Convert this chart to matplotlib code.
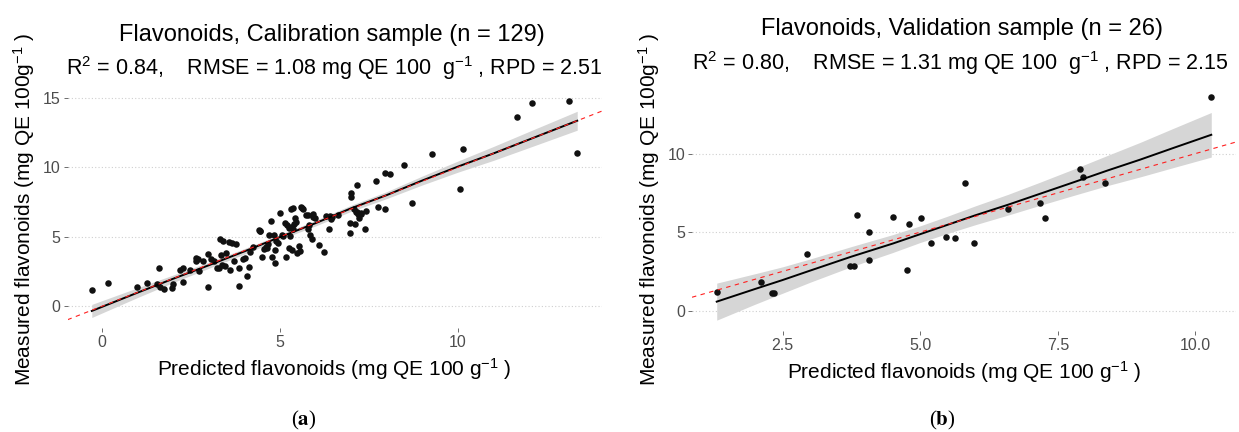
import numpy as np
import matplotlib
matplotlib.use("Agg")
import matplotlib.pyplot as plt

plt.rcParams['font.family'] = ['Liberation Sans', 'DejaVu Sans']
plt.rcParams['mathtext.fontset'] = 'custom'
plt.rcParams['mathtext.rm'] = 'Liberation Sans'
plt.rcParams['mathtext.it'] = 'Liberation Sans:italic'
plt.rcParams['mathtext.bf'] = 'Liberation Sans:bold'

# Calibration sample (predicted, measured)
cal_pred = [-0.28, 0.17, 1.00, 1.28, 1.55, 1.62, 1.63, 1.75, 1.98, 2.01, 2.21, 2.29, 2.28, 2.49,
            2.65, 2.65, 2.74, 2.85, 2.97, 2.99, 3.06, 3.14, 3.25, 3.30, 3.34, 3.32, 3.40, 3.38,
            3.50, 3.61, 3.65, 3.72, 3.78, 3.84, 3.85, 3.97, 4.09, 4.13, 4.15, 4.26, 4.41, 4.43,
            4.50, 4.56, 4.62, 4.67, 4.70, 4.76, 4.78, 4.84, 4.86, 4.87, 4.90, 5.01, 5.10, 5.15,
            5.17, 5.19, 5.25, 5.26, 5.29, 5.32, 5.36, 5.38, 5.40, 5.44, 5.47, 5.53, 5.56, 5.59,
            5.66, 5.73, 5.78, 5.81, 5.86, 5.89, 5.92, 5.94, 6.11, 6.24, 6.29, 6.37, 6.40, 6.45,
            6.62, 6.96, 6.97, 7.00, 7.00, 7.08, 7.11, 7.16, 7.18, 7.20, 7.23, 7.28, 7.39, 7.42,
            7.71, 7.77, 7.94, 7.95, 8.09, 8.50, 8.71, 9.26, 10.05, 10.14, 11.67, 12.07, 13.13, 13.35,
            2.70, 3.45, 3.58, 4.02, 4.65, 4.95, 5.05, 5.33, 5.31, 5.46, 5.63, 5.79, 6.00, 6.47,
            7.14, 7.27, 4.44]
cal_meas = [1.20, 1.66, 1.39, 1.71, 1.59, 2.79, 1.39, 1.23, 1.35, 1.63, 2.62, 2.79, 1.75, 2.64,
            3.46, 3.25, 2.55, 3.25, 3.80, 1.39, 3.37, 3.27, 2.76, 2.74, 3.70, 4.81, 4.71, 2.96,
            3.85, 2.64, 4.54, 3.27, 4.50, 2.79, 1.44, 3.41, 2.21, 2.84, 3.94, 4.28, 5.48, 5.43,
            3.58, 4.11, 4.28, 4.47, 5.12, 6.13, 3.58, 5.12, 4.06, 3.10, 4.69, 6.68, 5.05, 6.03,
            3.53, 5.84, 5.65, 4.23, 5.05, 6.97, 7.04, 5.58, 5.89, 6.35, 3.85, 4.33, 3.97, 7.16,
            7.00, 6.54, 5.53, 5.84, 5.12, 4.83, 6.63, 6.44, 4.38, 3.89, 6.51, 5.53, 6.51, 6.30,
            6.59, 5.26, 6.03, 8.17, 7.86, 7.00, 5.89, 6.80, 8.75, 6.63, 6.32, 6.73, 5.55, 6.88,
            8.99, 7.16, 7.02, 9.59, 9.52, 10.17, 7.43, 10.94, 8.46, 11.35, 13.63, 14.64, 14.76, 11.03,
            3.40, 2.90, 4.60, 3.45, 4.20, 4.57, 5.10, 4.06, 5.69, 6.05, 7.10, 6.58, 6.36, 6.46,
            6.77, 6.65, 5.40]

# Validation sample
val_pred = [1.30, 2.10, 2.31, 2.35, 2.94, 3.72, 3.80, 3.85, 4.06, 4.06, 4.51, 4.75, 4.80,
            5.02, 5.19, 5.47, 5.64, 5.82, 5.98, 6.60, 7.17, 7.26, 7.90, 7.96, 8.35, 10.29]
val_meas = [1.20, 1.83, 1.09, 1.09, 3.62, 2.84, 2.84, 6.10, 4.99, 3.24, 5.98, 2.57, 5.52,
            5.87, 4.32, 4.69, 4.61, 8.10, 4.32, 6.46, 6.84, 5.92, 9.03, 8.50, 8.15, 13.58]

# Smoothed fit with its 95% band (centre and half width)
cal_fit_x = [-0.28, 1, 2, 3, 4, 5, 6, 7, 8, 9, 10, 11, 12, 13.35]
cal_fit_y = [-0.33, 0.98, 1.98, 2.95, 3.95, 4.98, 5.98, 7.05, 8.0, 9.05, 10.05, 11.0, 12.0, 13.35]
cal_fit_hw = [0.47, 0.35, 0.27, 0.22, 0.2, 0.18, 0.2, 0.22, 0.25, 0.32, 0.4, 0.5, 0.58, 0.68]

val_fit_x = [1.30, 2.0, 2.5, 3.0, 3.75, 4.5, 5.0, 5.5, 6.0, 6.6, 7.2, 7.8, 8.4, 9.0, 9.6, 10.29]
val_fit_y = [0.57, 1.38, 1.95, 2.55, 3.44, 4.27, 4.87, 5.47, 6.07, 6.75, 7.47, 8.19, 8.92, 9.62, 10.36, 11.2]
val_fit_hw = [1.18, 0.97, 0.84, 0.74, 0.64, 0.57, 0.53, 0.55, 0.6, 0.66, 0.74, 0.84, 0.96, 1.1, 1.25, 1.42]

fig = plt.figure(figsize=(12.39, 4.32), dpi=100)
W, H = 1239, 432


def panel(rect, px, py, fx, fy, fhw, xticks, xfmt, yticks):
    ax = fig.add_axes(rect)
    fx, fy, fhw = np.array(fx), np.array(fy), np.array(fhw)
    ax.fill_between(fx, fy - fhw, fy + fhw, color='#D6D6D6', lw=0, zorder=1)
    ax.scatter(px, py, s=22, color='#111111', lw=0, zorder=2)
    ax.plot(fx, fy, color='black', lw=1.4, zorder=3)
    ax.axline((0, 0), slope=1, color='#FF2020', lw=0.8, ls=(0, (4, 4)), zorder=4)
    # ggplot-like 5% expansion
    xmin, xmax = min(px), max(px)
    ymin = min(min(py), (fy - fhw).min())
    ymax = max(max(py), (fy + fhw).max())
    dx, dy = 0.05 * (xmax - xmin), 0.05 * (ymax - ymin)
    ax.set_xlim(xmin - dx, xmax + dx)
    ax.set_ylim(ymin - dy, ymax + dy)
    ax.set_xticks(xticks)
    ax.set_xticklabels([xfmt.format(t) for t in xticks])
    ax.set_yticks(yticks)
    for s in ax.spines.values():
        s.set_visible(False)
    ax.yaxis.grid(True, color='#CFCFCF', lw=0.8, ls=(0, (1, 2)))
    ax.set_axisbelow(True)
    ax.tick_params(length=3, width=0.6, color='#555555', labelcolor='#4D4D4D',
                   labelsize=11.5, pad=2)
    return ax


ax1 = panel([67.5 / W, 1 - 328.3 / H, 534 / W, 238 / H], cal_pred, cal_meas,
            cal_fit_x, cal_fit_y, cal_fit_hw, [0, 5, 10], '{:g}', [0, 5, 10, 15])
ax2 = panel([692 / W, 1 - 331.3 / H, 544 / W, 245 / H], val_pred, val_meas,
            val_fit_x, val_fit_y, val_fit_hw, [2.5, 5.0, 7.5, 10.0], '{:.1f}', [0, 5, 10])

ylab = 'Measured flavonoids (mg QE 100g$^{-1}$ )'
xlab = 'Predicted flavonoids (mg QE 100 g$^{-1}$ )'
for ax in (ax1, ax2):
    ax.set_xlabel(xlab, fontsize=15, labelpad=4)
    ax.set_ylabel(ylab, fontsize=15, labelpad=4)

fig.text(332 / W, 1 - 35 / H, 'Flavonoids, Calibration sample (n = 129)',
         ha='center', va='center', fontsize=17)
fig.text(334 / W, 1 - 68 / H,
         'R$^2$ = 0.84,    RMSE = 1.08 mg QE 100  g$^{-1}$ , RPD = 2.51',
         ha='center', va='center', fontsize=15.5)
fig.text(962 / W, 1 - 29 / H, 'Flavonoids, Validation sample (n = 26)',
         ha='center', va='center', fontsize=17)
fig.text(960 / W, 1 - 63 / H,
         'R$^2$ = 0.80,    RMSE = 1.31 mg QE 100  g$^{-1}$ , RPD = 2.15',
         ha='center', va='center', fontsize=15.5)

# panel captions
fig.text(304 / W, 1 - 420 / H, '($\\mathbf{a}$)', ha='center', va='center',
         fontsize=15, family='Liberation Serif', math_fontfamily='stix')
fig.text(942 / W, 1 - 420 / H, '($\\mathbf{b}$)', ha='center', va='center',
         fontsize=15, family='Liberation Serif', math_fontfamily='stix')

plt.savefig('out.png', dpi=100)
